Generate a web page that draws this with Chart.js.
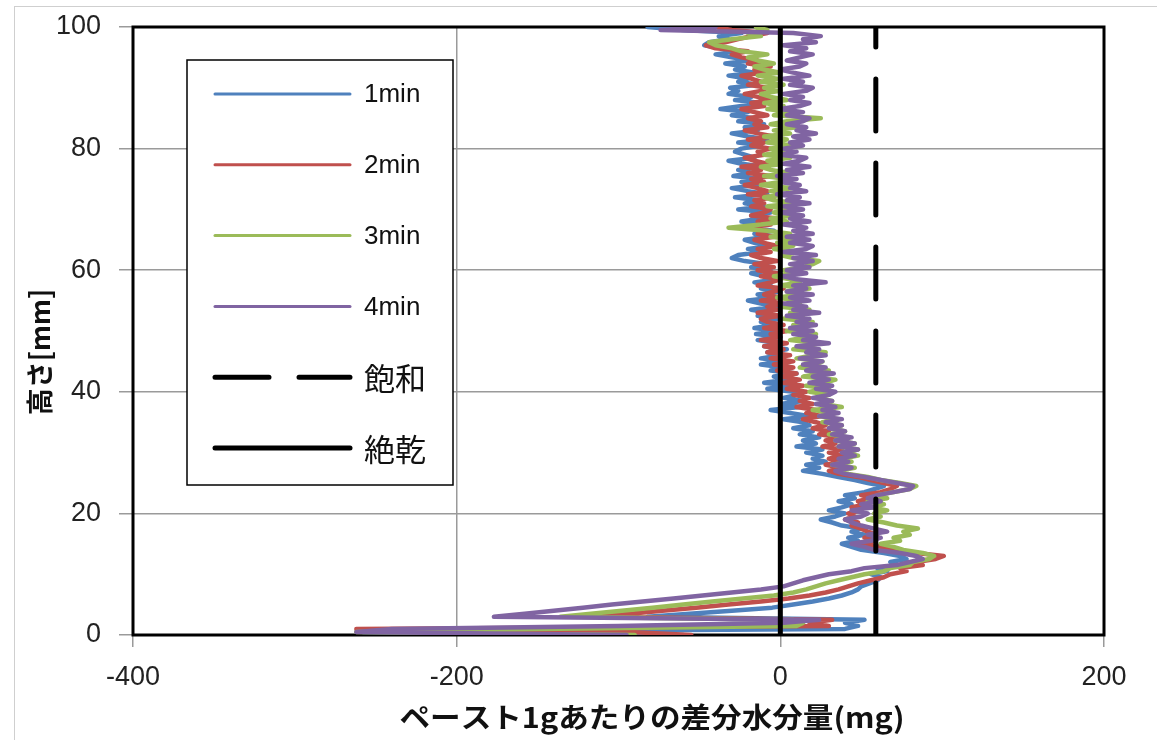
<!DOCTYPE html>
<html>
<head>
<meta charset="utf-8">
<script src="https://cdn.jsdelivr.net/npm/chart.js@4.4.1/dist/chart.umd.min.js"></script>
<style>
  html, body { margin: 0; padding: 0; background: #fff; }
  #wrap { width: 1157px; height: 740px; }
</style>
</head>
<body>
<div id="wrap"><canvas id="c" width="1157" height="740"></canvas></div>
<script>
// Measurement heights (mm), 0.5 mm pitch
const heightsMm = [
  0, 0.5, 1, 1.5, 2, 2.5, 3, 3.5, 4, 4.5,
  5, 5.5, 6, 6.5, 7, 7.5, 8, 8.5, 9, 9.5,
  10, 10.5, 11, 11.5, 12, 12.5, 13, 13.5, 14, 14.5,
  15, 15.5, 16, 16.5, 17, 17.5, 18, 18.5, 19, 19.5,
  20, 20.5, 21, 21.5, 22, 22.5, 23, 23.5, 24, 24.5,
  25, 25.5, 26, 26.5, 27, 27.5, 28, 28.5, 29, 29.5,
  30, 30.5, 31, 31.5, 32, 32.5, 33, 33.5, 34, 34.5,
  35, 35.5, 36, 36.5, 37, 37.5, 38, 38.5, 39, 39.5,
  40, 40.5, 41, 41.5, 42, 42.5, 43, 43.5, 44, 44.5,
  45, 45.5, 46, 46.5, 47, 47.5, 48, 48.5, 49, 49.5,
  50, 50.5, 51, 51.5, 52, 52.5, 53, 53.5, 54, 54.5,
  55, 55.5, 56, 56.5, 57, 57.5, 58, 58.5, 59, 59.5,
  60, 60.5, 61, 61.5, 62, 62.5, 63, 63.5, 64, 64.5,
  65, 65.5, 66, 66.5, 67, 67.5, 68, 68.5, 69, 69.5,
  70, 70.5, 71, 71.5, 72, 72.5, 73, 73.5, 74, 74.5,
  75, 75.5, 76, 76.5, 77, 77.5, 78, 78.5, 79, 79.5,
  80, 80.5, 81, 81.5, 82, 82.5, 83, 83.5, 84, 84.5,
  85, 85.5, 86, 86.5, 87, 87.5, 88, 88.5, 89, 89.5,
  90, 90.5, 91, 91.5, 92, 92.5, 93, 93.5, 94, 94.5,
  95, 95.5, 96, 96.5, 97, 97.5, 98, 98.5, 99, 99.5,
  100
];

// Differential water content per 1 g of paste (mg), one value per height
const water1min = [
  -60, -258, 40, 48, 40, 52, -82, -56, -30, -5,
  8, 20, 30, 38, 44, 48, 50, 55, 60, 62,
  56, 66, 60, 72, 68, 78, 74, 64, 50, 44,
  38, 48, 42, 52, 44, 50, 38, 32, 25, 34,
  40, 30, 38, 44, 36, 46, 40, 52, 58, 64,
  54, 46, 36, 26, 14, 24, 16, 28, 20, 26,
  16, 26, 10, 22, 14, 24, 12, 20, 8, 18,
  14, 2, 18, 6, -6, 12, 0, 14, 2, 10,
  8, -8, 6, -10, 4, -4, 10, -6, 2, -12,
  2, -12, 0, -8, 4, -10, -2, -14, 0, -15,
  -2, -16, -4, -12, 0, -14, -6, -18, -2, -12,
  -20, -4, -14, 0, -12, -6, -16, -2, -10, -18,
  -6, -18, -8, -22, -30, -26, -12, -20, -6, -16,
  -22, -8, -16, -4, -20, -10, -24, -12, -18, -6,
  -26, -10, -22, -14, -28, -8, -20, -30, -14, -24,
  -12, -29, -18, -26, -10, -24, -32, -16, -22, -28,
  -24, -12, -26, -8, -20, -30, -14, -22, -10, -26,
  -16, -30, -20, -37, -24, -12, -28, -18, -32, -26,
  -31, -14, -26, -20, -32, -16, -28, -22, -34, -18,
  -30, -40, -26, -36, -47, -44, -32, -38, -24, -60,
  -82
];

const water2min = [
  -55, -93, -262, 30, 18, 32, -113, -93, -73, -52,
  -32, -12, 5, 18, 28, 36, 42, 48, 56, 64,
  68, 78, 74, 88, 84, 96, 101, 84, 70, 62,
  50, 58, 52, 60, 54, 50, 44, 48, 40, 46,
  42, 50, 44, 54, 48, 56, 50, 62, 68, 72,
  64, 56, 48, 36, 30, 38, 28, 36, 30, 38,
  30, 38, 26, 34, 28, 36, 24, 30, 20, 28,
  22, 14, 26, 16, 22, 10, 20, 12, 18, 8,
  16, 4, 14, 2, 12, 0, 10, -2, 8, -4,
  8, -6, 6, -8, 2, -10, 4, -12, 0, -6,
  4, -10, 2, -8, -12, 0, -14, -2, -8, 2,
  -12, 0, -10, -4, 2, -14, -6, 0, -12, -2,
  -14, -4, -16, -2, -12, -18, -6, -14, -2, -10,
  -16, -4, -14, -8, -20, -6, -14, -2, -18, -10,
  -6, -18, -10, -16, -4, -20, -8, -14, -22, -10,
  -18, -6, -20, -12, -24, -8, -16, -22, -10, -14,
  -6, -18, -10, -20, -4, -14, -22, -8, -16, -12,
  -20, -8, -16, -24, -10, -18, -6, -14, -22, -12,
  -8, -20, -12, -18, -24, -10, -16, -6, -20, -14,
  -24, -30, -20, -40, -46, -34, -26, -18, -8, -30,
  -40
];

const water3min = [
  -90, -262, -150, 10, 14, 8, -136, -117, -98, -79,
  -60, -42, -23, -4, 8, 16, 22, 28, 36, 44,
  52, 64, 68, 80, 82, 92, 95, 88, 76, 70,
  62, 74, 70, 80, 76, 85, 72, 64, 54, 62,
  58, 66, 56, 64, 54, 66, 60, 70, 80, 84,
  74, 62, 54, 42, 36, 46, 32, 44, 38, 48,
  40, 48, 36, 46, 34, 42, 30, 40, 32, 38,
  26, 36, 24, 34, 20, 38, 26, 32, 22, 30,
  18, 30, 16, 28, 34, 14, 24, 30, 12, 22,
  26, 10, 20, 28, 8, 18, 24, 6, 16, 22,
  4, 16, 8, 20, 2, 14, 6, 18, 0, 12,
  10, -2, 14, 4, 18, 0, 12, 6, -4, 10,
  2, 14, 20, 24, 8, 0, 12, -4, 8, -2,
  10, -6, 6, -8, -32, -12, 4, -6, 8, -4,
  6, -8, 10, -4, -10, 4, -6, 8, -12, 0,
  4, -10, 6, -6, -12, 2, -8, 6, -10, 2,
  -6, 8, -8, 4, -10, 6, -4, 10, -6, 4,
  25, -4, 6, -8, 2, -10, 4, -6, -12, 0,
  -10, 2, -12, -2, -14, 0, -10, -16, -4, -14,
  -20, -8, -24, -30, -40, -44, -30, -12, -20, -8,
  -15
];

const water4min = [
  -95, -262, -240, -100, 2, 24, -177, -158, -140, -122,
  -104, -85, -66, -48, -30, -12, 2, 8, 14, 22,
  30, 44, 52, 72, 80, 88, 84, 74, 58, 52,
  44, 56, 62, 54, 66, 58, 50, 44, 40, 50,
  54, 44, 58, 50, 62, 54, 60, 70, 80, 82,
  72, 62, 52, 40, 34, 44, 32, 42, 36, 46,
  38, 48, 36, 46, 34, 44, 32, 40, 30, 38,
  28, 38, 24, 36, 26, 34, 22, 32, 20, 30,
  34, 22, 32, 18, 30, 20, 33, 16, 28, 14,
  26, 12, 28, 16, 24, 10, 30, 14, 22, 8,
  20, 6, 22, 10, 18, 4, 24, 8, 16, 2,
  18, 6, 20, 4, 16, 8, 28, 10, 2, 16,
  4, 18, 6, 20, 8, 22, 2, 16, 20, 6,
  18, 4, 20, 8, 16, 2, 18, 6, 14, 0,
  14, 2, 18, 4, 12, -2, 16, 6, 12, 0,
  10, -2, 14, 4, 18, 2, 12, 16, 0, 10,
  2, 14, 6, 18, 8, 22, 10, 16, 4, 14,
  18, 4, 14, 0, 12, 18, 6, 14, 2, 16,
  20, 6, 14, 2, 18, 8, 0, 12, 16, 4,
  12, 20, 6, 16, 2, 22, 14, 25, 8, -74,
  -40
];

// Reference levels (mg/g)
const saturatedLevel = 59;   // 飽和
const ovenDryLevel = 0;      // 絶乾

const seriesLabels = ['1min', '2min', '3min', '4min', '飽和', '絶乾'];
const seriesColors = ['#4F81BD', '#C0504D', '#9BBB59', '#8064A2', '#000000', '#000000'];
const xTickValues = [-400, -200, 0, 200];
const yTickValues = [0, 20, 40, 60, 80, 100];
const xAxisTitle = 'ペースト1gあたりの差分水分量(mg)';
const yAxisTitle = '高さ[mm]';

const toPoints = values => values.map((v, i) => ({ x: v, y: heightsMm[i] }));
const verticalAt = v => [{ x: v, y: heightsMm[0] }, { x: v, y: heightsMm[heightsMm.length - 1] }];

const profileSet = (label, values, color, order) => ({
  label, data: toPoints(values), borderColor: color, backgroundColor: color,
  borderWidth: 4.5, showLine: true, pointRadius: 0, borderJoinStyle: 'round',
  borderCapStyle: 'round', order
});

const datasets = [
  profileSet(seriesLabels[0], water1min, seriesColors[0], 6),
  profileSet(seriesLabels[1], water2min, seriesColors[1], 5),
  profileSet(seriesLabels[2], water3min, seriesColors[2], 4),
  profileSet(seriesLabels[3], water4min, seriesColors[3], 3),
  { label: seriesLabels[4], data: verticalAt(saturatedLevel), borderColor: seriesColors[4],
    borderWidth: 5, borderDash: [52, 32], borderCapStyle: 'round', showLine: true, pointRadius: 0, order: 2 },
  { label: seriesLabels[5], data: verticalAt(ovenDryLevel), borderColor: seriesColors[5],
    borderWidth: 5, borderCapStyle: 'butt', showLine: true, pointRadius: 0, order: 1 }
];

const GRID = '#9a9a9a';
const TICK_FONT = { family: "'Liberation Sans', Arial, sans-serif", size: 27 };

// Page frame, plot border, legend box and axis titles
const decorations = {
  id: 'decorations',
  beforeDraw(chart) {
    const c = chart.ctx;
    c.save();
    c.fillStyle = '#fff';
    c.fillRect(0, 0, chart.width, chart.height);
    c.strokeStyle = '#cfcfcf';
    c.lineWidth = 1;
    c.strokeRect(14.5, 6.5, chart.width, chart.height);
    c.restore();
  },
  beforeDatasetsDraw(chart) {
    const { left, top, right, bottom } = chart.chartArea;
    const c = chart.ctx;
    c.save();
    c.strokeStyle = '#000';
    c.lineWidth = 3;
    c.strokeRect(left, top, right - left, bottom - top);
    c.restore();
  },
  afterDraw(chart) {
    const c = chart.ctx;
    c.save();
    // legend
    const bx = 187, by = 60, bw = 266, bh = 425;
    c.fillStyle = '#fff';
    c.fillRect(bx, by, bw, bh);
    c.strokeStyle = '#000';
    c.lineWidth = 1.5;
    c.strokeRect(bx, by, bw, bh);
    chart.data.datasets.forEach((ds, i) => {
      const y = 94 + i * 70.8;
      c.beginPath();
      c.strokeStyle = ds.borderColor;
      c.lineWidth = ds.borderWidth === 5 ? 5 : 3;
      c.lineCap = 'round';
      c.setLineDash(ds.borderDash ? [54, 30] : []);
      c.moveTo(215, y);
      c.lineTo(350, y);
      c.stroke();
      c.setLineDash([]);
      const cjk = /[^\x00-\x7f]/.test(ds.label);
      c.font = cjk ? "31px 'Noto Sans CJK JP'" : "26px 'Liberation Sans', Arial, sans-serif";
      c.fillStyle = '#111';
      c.textAlign = 'left';
      c.textBaseline = 'middle';
      c.fillText(ds.label, 364, y + 1);
    });
    // axis titles
    c.fillStyle = '#111';
    c.textAlign = 'center';
    c.textBaseline = 'middle';
    c.font = "bold 28px 'Noto Sans CJK JP'";
    const w = c.measureText(xAxisTitle).width;
    c.save();
    c.translate(652, 717);
    c.scale(505 / w, 1);
    c.fillText(xAxisTitle, 0, 0);
    c.restore();
    c.save();
    c.translate(40, 352);
    c.rotate(-Math.PI / 2);
    c.font = "bold 27px 'Noto Sans CJK JP'";
    c.fillText(yAxisTitle, 0, 0);
    c.restore();
    c.restore();
  }
};

new Chart(document.getElementById('c'), {
  type: 'scatter',
  data: { datasets },
  plugins: [decorations],
  options: {
    responsive: false,
    animation: false,
    devicePixelRatio: 1,
    layout: { padding: { top: 27, right: 53, left: 0, bottom: 0 } },
    plugins: { legend: { display: false }, tooltip: { enabled: false } },
    scales: {
      x: {
        type: 'linear', min: -400, max: 200,
        afterBuildTicks: s => { s.ticks = xTickValues.map(v => ({ value: v })); },
        afterFit: s => { s.height = 105; s.paddingLeft = 0; s.paddingRight = 0; },
        grid: { color: GRID, lineWidth: 1.5, tickLength: 12, drawTicks: true },
        border: { display: false },
        ticks: { font: TICK_FONT, color: '#222', padding: 14, maxRotation: 0 }
      },
      y: {
        type: 'linear', min: 0, max: 100,
        afterBuildTicks: s => { s.ticks = yTickValues.map(v => ({ value: v })); },
        afterFit: s => { s.width = 133; s.paddingTop = 0; s.paddingBottom = 0; },
        grid: { color: GRID, lineWidth: 1.5, tickLength: 14, drawTicks: true },
        border: { display: false },
        ticks: { font: TICK_FONT, color: '#222', padding: 18 }
      }
    }
  }
});
</script>
</body>
</html>
